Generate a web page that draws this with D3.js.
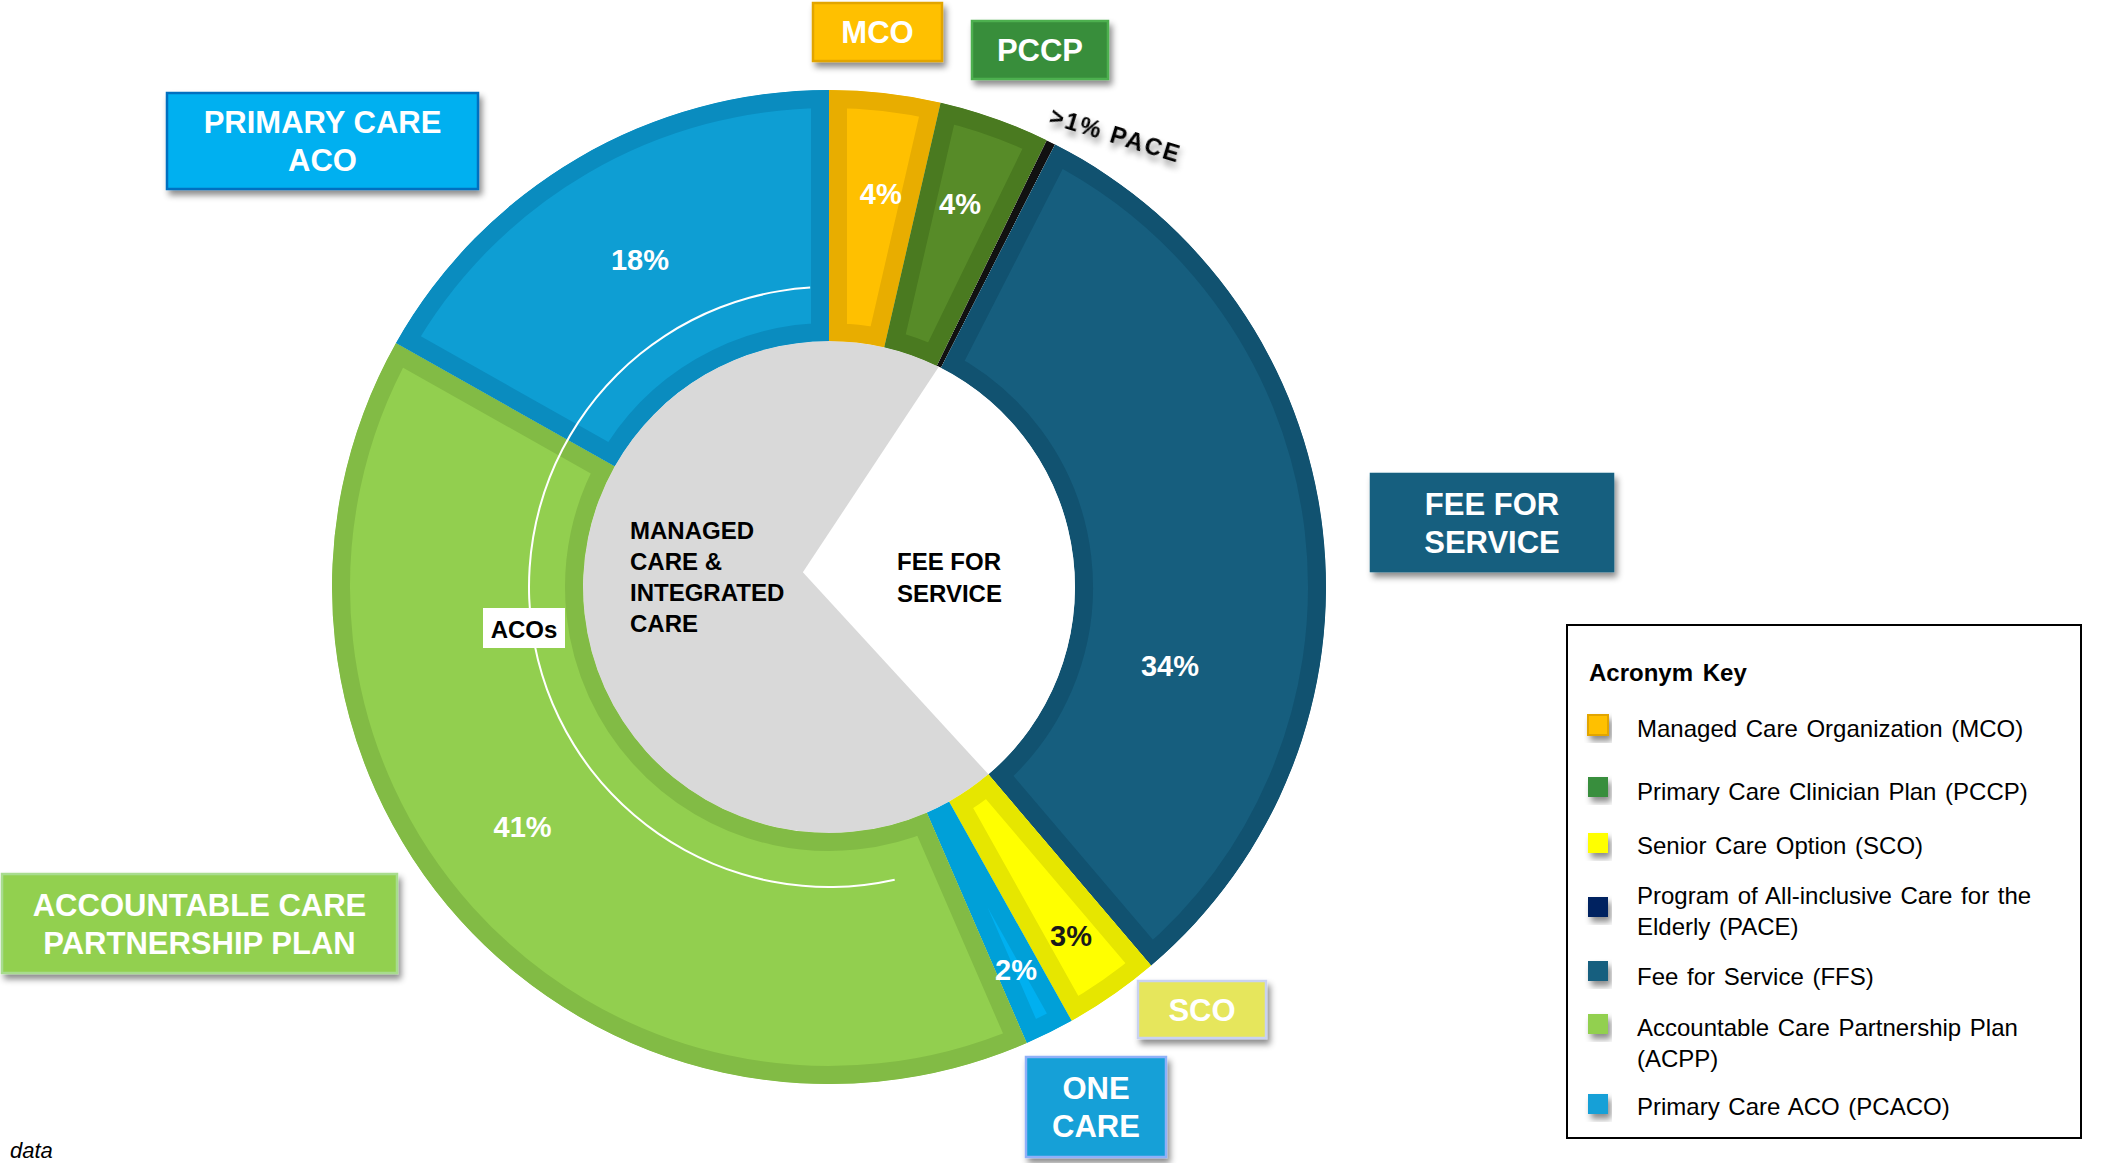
<!DOCTYPE html>
<html>
<head>
<meta charset="utf-8">
<script src="https://cdn.jsdelivr.net/npm/d3@7"></script>
<style>
  body { margin: 0; background: #fff; }
  svg { display: block; font-family: "Liberation Sans", Arial, sans-serif; }
  .pct { font-size: 29px; font-weight: bold; }
  .callout text { fill: #fff; font-size: 31px; font-weight: bold; }
  .center-label { font-size: 24px; font-weight: bold; fill: #000; }
  .key-title { font-size: 24px; font-weight: bold; word-spacing: 3px; }
  .key-item { font-size: 24px; word-spacing: 2px; fill: #000; }
</style>
</head>
<body>
<div id="chart"></div>
<script>
// the printed labels are what the slide shows.
const segments = ["MCO", "PCCP", "PACE", "FFS", "SCO", "One Care", "ACPP", "PCACO"];
const shares = [3.6, 3.6, 0.3, 31.2, 3.1, 1.6, 39.6, 16.8];
const shareLabels = ["4%", "4%", ">1% PACE", "34%", "3%", "2%", "41%", "18%"];

const segFill = ["#FFC000", "#578B28", "#111111", "#165E7E", "#FFFF00", "#00B0F0", "#92CF4F", "#0E9ED3"];
const segBand = ["#E8AD00", "#4A7A20", "#111111", "#115270", "#E6E600", "#00A0D8", "#82BB45", "#0A8CBF"];
const labelColor = ["#fff", "#fff", "#000", "#fff", "#1a1a1a", "#fff", "#fff", "#fff"];

const calloutLines = [["MCO"], ["PCCP"], ["PRIMARY CARE", "ACO"], ["FEE FOR", "SERVICE"],
  ["ACCOUNTABLE CARE", "PARTNERSHIP PLAN"], ["SCO"], ["ONE", "CARE"]];

const centerLeft = ["MANAGED", "CARE &", "INTEGRATED", "CARE"];
const centerRight = ["FEE FOR", "SERVICE"];

const keyTitle = "Acronym Key";
const keyNames = [
  ["Managed Care Organization (MCO)"],
  ["Primary Care Clinician Plan (PCCP)"],
  ["Senior Care Option (SCO)"],
  ["Program of All-inclusive Care for the", "Elderly (PACE)"],
  ["Fee for Service (FFS)"],
  ["Accountable Care Partnership Plan", "(ACPP)"],
  ["Primary Care ACO (PCACO)"]
];
const keyColors = ["#FFC000", "#388E3C", "#FFFF00", "#002060", "#175F7F", "#92D050", "#12A0D7"];

// ---- layout ----
const W = 2118, H = 1163;
const cx = 829, cy = 587;
const rOuter = 497, rInner = 246, rAco = 300;
const band = 18;

const svg = d3.select("#chart").append("svg").attr("width", W).attr("height", H);
const defs = svg.append("defs");
const shadow = defs.append("filter").attr("id", "shadow")
  .attr("x", "-20%").attr("y", "-20%").attr("width", "140%").attr("height", "160%");
shadow.append("feDropShadow").attr("dx", 3).attr("dy", 5).attr("stdDeviation", 3)
  .attr("flood-color", "#000").attr("flood-opacity", 0.45);

const polar = (a, r) => [cx + r * Math.sin(a), cy - r * Math.cos(a)];
const deg = Math.PI / 180;

const pie = d3.pie().sort(null).value(d => d);
const arcs = pie(shares);
const arc = d3.arc().innerRadius(rInner).outerRadius(rOuter);

const g = svg.append("g").attr("transform", `translate(${cx},${cy})`);

// inner disc: grey, with the white FFS chevron cut in
g.append("circle").attr("r", rInner).attr("fill", "#D9D9D9");
const ffs = arcs[3], pace = arcs[2], acpp = arcs[6];
const p1 = polar((pace.startAngle + pace.endAngle) / 2, rInner);
const p2 = polar(ffs.endAngle, rInner);
const apex = polar(acpp.endAngle, 30);
svg.append("path")
  .attr("d", `M${p1}L${apex}L${p2}A${rInner},${rInner} 0 0 0 ${p1}Z`)
  .attr("fill", "#fff");

// ring slices with a darker inset band
const slices = g.selectAll("g.slice").data(arcs).join("g").attr("class", "slice");
slices.append("clipPath").attr("id", (d, i) => "clip" + i)
  .append("path").attr("d", arc);
slices.append("path")
  .attr("d", arc)
  .attr("fill", (d, i) => segFill[i])
  .attr("stroke", (d, i) => segBand[i])
  .attr("stroke-width", (d, i) => i === 2 ? 0 : band * 2)
  .attr("stroke-linejoin", "miter")
  .attr("clip-path", (d, i) => `url(#clip${i})`);

// percent labels
const labelPos = [
  { da: 1, r: 397 }, { da: -0.6, r: 405 }, null, { da: 19.7, r: 350 },
  { da: 0, r: 424 }, { da: 0.3, r: 426 }, { da: 4, r: 389 }, { da: 0.3, r: 378 }
];
arcs.forEach((d, i) => {
  const lp = labelPos[i];
  if (!lp) return;
  const [x, y] = polar((d.startAngle + d.endAngle) / 2 + lp.da * deg, lp.r);
  svg.append("text").attr("class", "pct")
    .attr("x", x).attr("y", y).attr("dy", "0.36em")
    .attr("text-anchor", "middle")
    .attr("fill", labelColor[i])
    .text(shareLabels[i]);
});

// PACE label, rotated outside the ring
{
  const [x, y] = polar(pace.startAngle - 0.7 * deg, 513);
  svg.append("text")
    .attr("transform", `translate(${x},${y}) rotate(17)`)
    .attr("font-size", 24).attr("font-weight", "bold").attr("letter-spacing", 2)
    .attr("fill", "#000").attr("filter", "url(#shadow)")
    .text(shareLabels[2]);
}

// ACOs bracket arc over ACPP + PCACO
const acoArc = d3.arc().innerRadius(rAco - 1).outerRadius(rAco + 1)
  .startAngle(acpp.startAngle + 10.8 * deg).endAngle(2 * Math.PI - 3.6 * deg);
g.append("path").attr("d", acoArc()).attr("fill", "#fff");
svg.append("rect").attr("x", 483).attr("y", 608).attr("width", 82).attr("height", 40).attr("fill", "#fff");
svg.append("text").attr("class", "center-label").attr("x", 524).attr("y", 638)
  .attr("text-anchor", "middle").text("ACOs");

// centre captions
svg.append("text").attr("class", "center-label")
  .selectAll("tspan").data(centerLeft).join("tspan")
  .attr("x", 630).attr("y", (d, i) => 539 + i * 31).text(d => d);
svg.append("text").attr("class", "center-label")
  .selectAll("tspan").data(centerRight).join("tspan")
  .attr("x", 897).attr("y", (d, i) => 570 + i * 32).text(d => d);

// callout boxes
const calloutBox = [
  { x: 813, y: 3, w: 129, h: 58, fill: "#FFC000", stroke: "#E2A500" },
  { x: 972, y: 21, w: 136, h: 58, fill: "#398E3B", stroke: "#4DB050" },
  { x: 167, y: 93, w: 311, h: 96, fill: "#00B0F0", stroke: "#0070C0" },
  { x: 1371, y: 474, w: 242, h: 97, fill: "#175F7F", stroke: "#175F7F" },
  { x: 2, y: 874, w: 395, h: 99, fill: "#92D050", stroke: "#A8DC8E" },
  { x: 1138, y: 981, w: 128, h: 57, fill: "#E6E65C", stroke: "#C9D2F0" },
  { x: 1026, y: 1057, w: 140, h: 100, fill: "#12A0D7", stroke: "#8FB0F8" }
];
calloutLines.forEach((lines, i) => {
  const b = calloutBox[i];
  const cg = svg.append("g").attr("class", "callout");
  cg.append("rect").attr("x", b.x).attr("y", b.y).attr("width", b.w).attr("height", b.h)
    .attr("fill", b.fill).attr("stroke", b.stroke).attr("stroke-width", 2.5)
    .attr("filter", "url(#shadow)");
  const mid = b.y + b.h / 2;
  lines.forEach((t, j) => {
    cg.append("text").attr("x", b.x + b.w / 2)
      .attr("y", mid + (j - (lines.length - 1) / 2) * 38 + 11)
      .attr("text-anchor", "middle").text(t);
  });
});

// acronym key
const key = svg.append("g");
key.append("rect").attr("x", 1567).attr("y", 625).attr("width", 514).attr("height", 513)
  .attr("fill", "#fff").attr("stroke", "#000").attr("stroke-width", 2);
key.append("text").attr("class", "key-title").attr("x", 1589).attr("y", 681).text(keyTitle);
const keyRows = [
  { base: 737, sq: 725 }, { base: 800, sq: 787 }, { base: 854, sq: 843 },
  { base: 904, sq: 907 }, { base: 985, sq: 971 }, { base: 1036, sq: 1024 }, { base: 1115, sq: 1104 }
];
keyNames.forEach((lines, i) => {
  const r = keyRows[i];
  key.append("rect").attr("x", 1588).attr("y", r.sq - 10).attr("width", 20).attr("height", 20)
    .attr("fill", keyColors[i]).attr("stroke", i === 0 ? "#E2A500" : "none").attr("stroke-width", 2)
    .attr("filter", "url(#shadow)");
  key.append("text").attr("class", "key-item")
    .selectAll("tspan").data(lines).join("tspan")
    .attr("x", 1637).attr("y", (d, j) => r.base + j * 31).text(d => d);
});

// source note at the slide's bottom edge
svg.append("text").attr("x", 10).attr("y", 1158)
  .attr("font-size", 22).attr("font-style", "italic").attr("fill", "#000")
  .text("data");
</script>
</body>
</html>
